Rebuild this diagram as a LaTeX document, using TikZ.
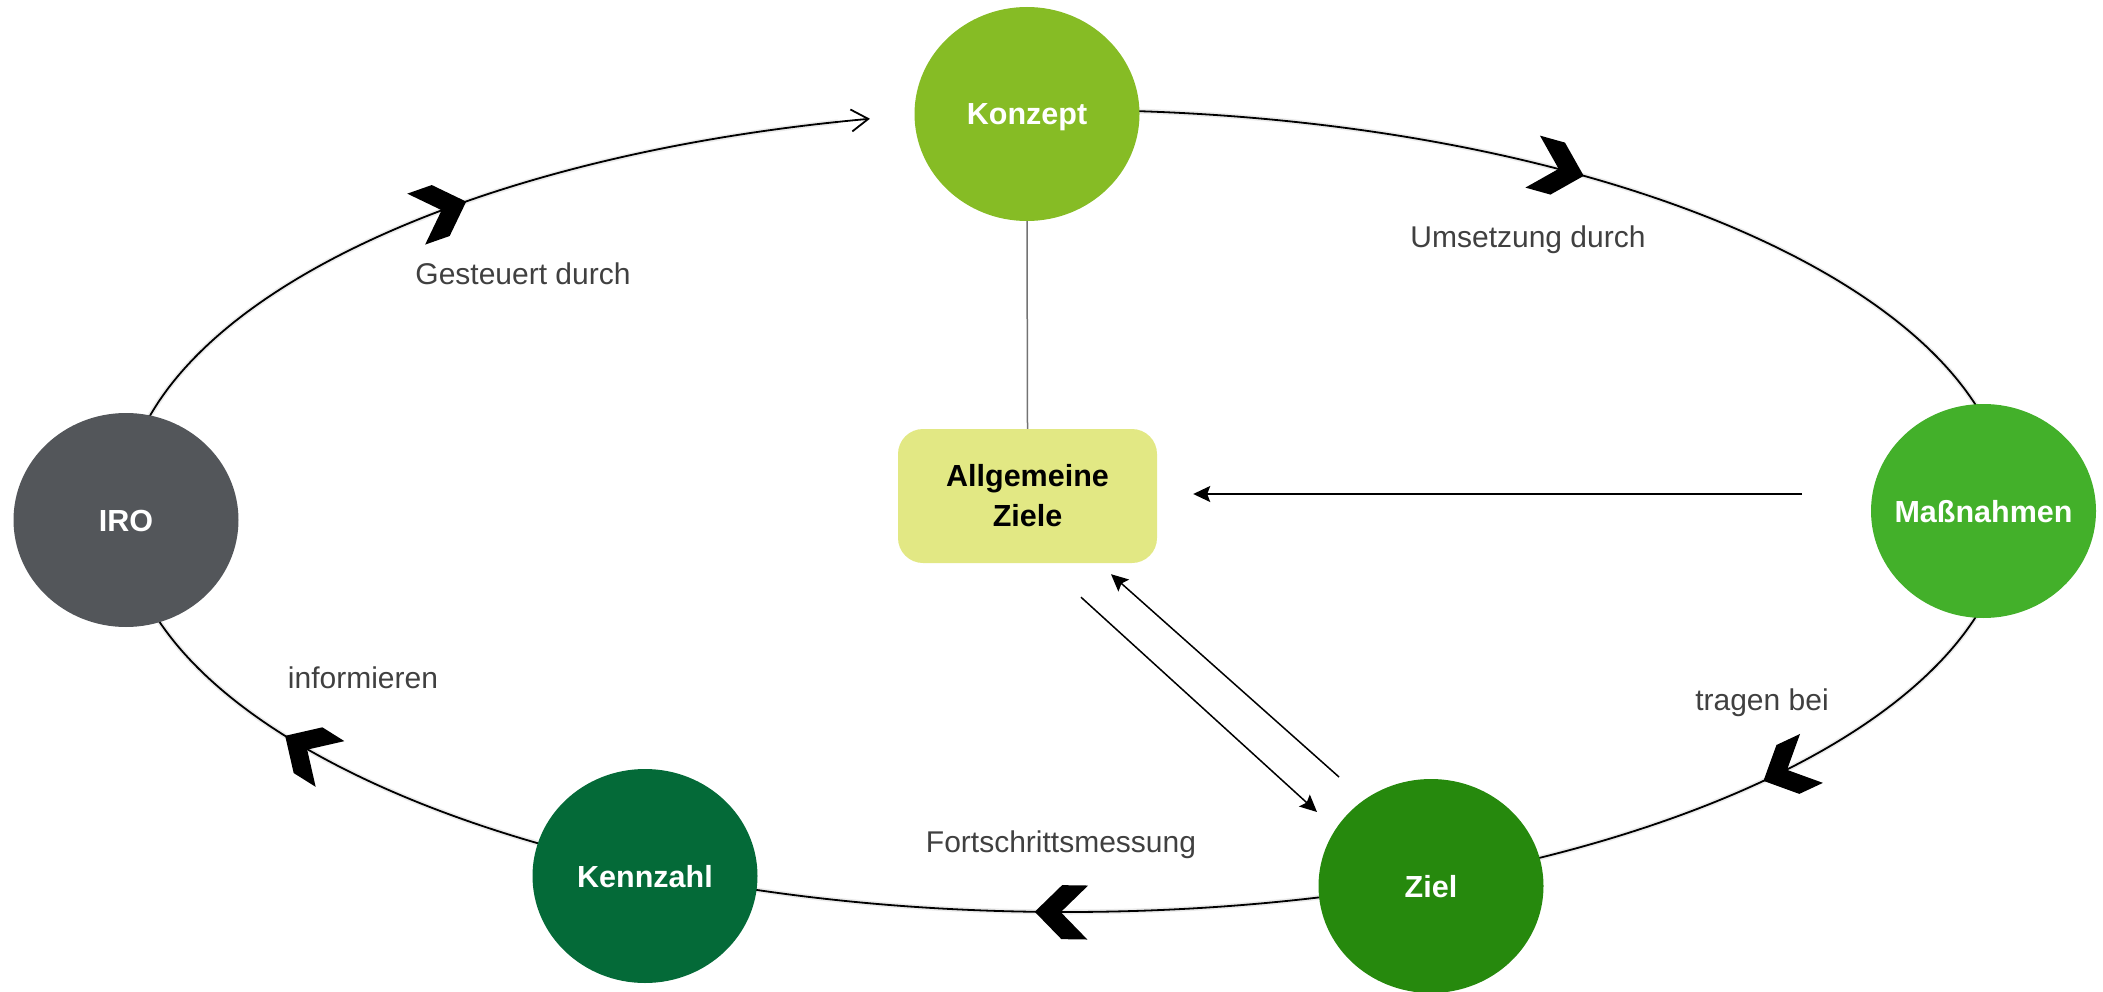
\documentclass[tikz,border=0pt]{standalone}
\usepackage{fontspec}
\setmainfont{Liberation Sans}
\usetikzlibrary{shapes.geometric,arrows.meta,calc}
\definecolor{cKonzept}{HTML}{86BC25}
\definecolor{cMass}{HTML}{43B02A}
\definecolor{cZiel}{HTML}{26890D}
\definecolor{cKenn}{HTML}{046A38}
\definecolor{cIRO}{HTML}{53565A}
\definecolor{cRect}{HTML}{E2E884}
\definecolor{cLabel}{HTML}{404040}
\begin{document}
\begin{tikzpicture}[x=1pt,y=-1pt,
  stage/.style={ellipse, inner ysep=0pt, inner xsep=-20pt, minimum width=225pt, minimum height=214pt,
    text=white, font=\fontsize{30.5}{36}\selectfont\bfseries, text height=22pt, text depth=0pt},
  lbl/.style={anchor=base, text=cLabel, font=\fontsize{30}{36}\selectfont, inner sep=0pt},
  ring/.style={line width=1.8pt, black},
  ringshadow/.style={line width=5pt, black!8},
  chevron/.style={fill=black},
  link/.style={line width=1.5pt, -{Stealth[length=17pt,width=16pt,inset=3pt]}},
  stem/.style={line width=1.5pt, black!55}
]
\useasboundingbox (0,0) rectangle (2103,992);

% ring (ellipse centre (1066,511), radii 943 x 401)
\coordinate (r1) at ({1066+943*cos(190)},{511+401*sin(190)});
\coordinate (r2) at ({1066+943*cos(270)},{511+401*sin(270)});
\begin{scope}[shift={(2,5)}]
  \draw[ringshadow] (r1) arc[start angle=190, end angle=256, x radius=943, y radius=401];
  \draw[ringshadow] (r2) arc[start angle=270, end angle=540, x radius=943, y radius=401];
\end{scope}
\draw[ring, -{Straight Barb[length=17pt,width=22pt]}] (r1) arc[start angle=190, end angle=258, x radius=943, y radius=401];
\draw[ring] (r2) arc[start angle=270, end angle=540, x radius=943, y radius=401];

% chevrons on the ring
\foreach \t in {230.5,303.3,42.3,91.9,145.9} {
  \pgfmathsetmacro{\ang}{atan2(-401*cos(\t),-943*sin(\t))}
  \fill[chevron, shift={({1066+943*cos(\t)},{511+401*sin(\t)})}, rotate=\ang]
    (0,0) -- (-27,-27) -- (-53,-27) -- (-26,0) -- (-53,27) -- (-27,27) -- cycle;
}

% stages
\node[stage, fill=cKonzept] (konzept) at (1027,114) {Konzept};
\node[stage, fill=cMass] (mass) at (1983.5,511) {Maßnahmen};
\node[stage, fill=cIRO] (iro) at (126,520) {IRO};
\node[stage, fill=cKenn] (kenn) at (645,876) {Kennzahl};
\node[stage, fill=cZiel] (ziel) at (1431,886) {Ziel};

% central box
\node[rectangle, rounded corners=25pt, fill=cRect, minimum width=259pt, minimum height=134pt,
  inner sep=0pt, align=center, font=\fontsize{30.5}{40}\selectfont\bfseries] (allg) at (1027.5,496) {Allgemeine\\Ziele};

% connectors
\draw[stem] (konzept.south) -- (allg.north);
\draw[link] ($(mass.center)+(-181.5,-17)$) -- ($(allg.east)+(36,-2)$);
\draw[link] ($(allg.south)+(53.5,34)$) -- ($(ziel.center)+(-114,-74)$);
\draw[link] ($(ziel.center)+(-92,-109)$) -- ($(allg.south)+(83.5,11)$);

% labels
\node[lbl] (l1) at (523,284) {Gesteuert durch};
\node[lbl] (l2) at (1528,248) {Umsetzung durch};
\node[lbl] (l3) at (363,688) {informieren};
\node[lbl] (l4) at (1762,710) {tragen bei};
\node[lbl] (l5) at (1061,852) {Fortschrittsmessung};
\end{tikzpicture}
\end{document}
